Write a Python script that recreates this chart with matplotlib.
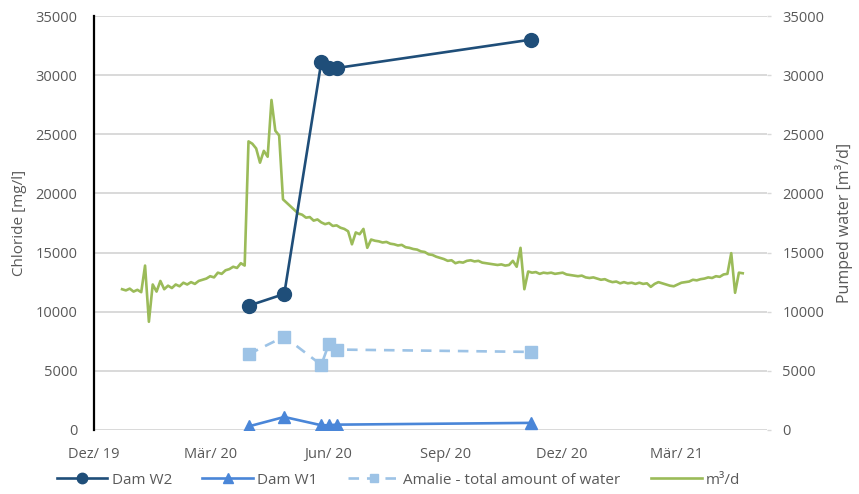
import numpy as np
import pandas as pd
import matplotlib.pyplot as plt

# sampling dates of the chloride / water measurements
sample_dates = pd.to_datetime(["2020-03-31", "2020-04-28", "2020-05-27",
                               "2020-06-02", "2020-06-08", "2020-11-07"])
dam_w2 = [10500, 11500, 31100, 30600, 30600, 33000]
dam_w1 = [300, 1100, 400, 400, 450, 600]
amalie = [6400, 7900, 5500, 7300, 6800, 6600]

# pumped water (m3/d), read every 3 days starting 23.12.2019
pumped_start = "2019-12-23"
pumped = [11900, 11800, 11950, 11700, 11850, 11650, 13900, 9150, 12300, 11700,
          12600, 11900, 12200, 12000, 12300, 12150, 12450, 12300, 12500, 12350,
          12600, 12700, 12800, 13000, 12900, 13300, 13200, 13500, 13600, 13800,
          13700, 14100, 13900, 24400, 24200, 23800, 22600, 23600, 23100, 27900,
          25300, 24900, 19500, 19200, 18900, 18600, 18300, 18200, 17950, 18000,
          17700, 17800, 17550, 17400, 17500, 17250, 17300, 17100, 17000, 16800,
          15700, 16700, 16550, 17000, 15400, 16100, 16000, 15950, 15850, 15900,
          15750, 15700, 15600, 15650, 15450, 15400, 15300, 15250, 15100, 15050,
          14850, 14800, 14650, 14550, 14450, 14300, 14350, 14100, 14200, 14150,
          14300, 14350, 14250, 14300, 14150, 14100, 14050, 14000, 13950, 14000,
          13900, 13950, 14300, 13800, 15400, 11900, 13400, 13300, 13350, 13200,
          13300, 13250, 13300, 13200, 13250, 13300, 13150, 13100, 13050, 13000,
          13050, 12900, 12850, 12900, 12800, 12700, 12750, 12600, 12500, 12550,
          12400, 12500, 12400, 12450, 12350, 12450, 12350, 12400, 12100, 12350,
          12500, 12400, 12300, 12200, 12150, 12300, 12450, 12500, 12550, 12700,
          12650, 12750, 12800, 12900, 12850, 13000, 12950, 13150, 13200, 14950,
          11600, 13300, 13250]
pumped_dates = pd.date_range(pumped_start, periods=len(pumped), freq="3D")

tick_dates = pd.to_datetime(["2019-12-01", "2020-03-01", "2020-06-01",
                             "2020-09-01", "2020-12-01", "2021-03-01"])
tick_labels = ["Dez/ 19", "Mär/ 20", "Jun/ 20", "Sep/ 20", "Dez/ 20", "Mär/ 21"]

plt.rcParams['font.family'] = ['Open Sans', 'DejaVu Sans']
txt = '#595959'
grid_c = '#d9d9d9'

fig = plt.figure(figsize=(8.59, 4.94), dpi=100)
ax1 = fig.add_axes([0.1094, 0.1296, 0.7835, 0.838])
ax2 = ax1.twinx()

# green line on the secondary axis, kept behind the blue series
ax1.set_zorder(ax2.get_zorder() + 1)
ax1.patch.set_visible(False)

p4, = ax2.plot(pumped_dates, pumped, color='#9bbb59', lw=1.9, label='m³/d')
p1, = ax1.plot(sample_dates, dam_w2, color='#1f4e79', lw=1.9, marker='o',
               ms=10, label='Dam W2')
p2, = ax1.plot(sample_dates, dam_w1, color='#4a86d8', lw=1.9, marker='^',
               ms=9, label='Dam W1')
p3, = ax1.plot(sample_dates, amalie, color='#9dc3e6', lw=1.9, marker='s',
               ms=8, ls=(0, (4, 3)), label='Amalie - total amount of water')

for ax in (ax1, ax2):
    ax.set_ylim(0, 35000)
    ax.set_yticks(np.arange(0, 35001, 5000))
    ax.set_xlim(pd.Timestamp("2019-12-01"), pd.Timestamp("2021-05-11"))
    for s in ax.spines.values():
        s.set_visible(False)

ax2.set_xticks(tick_dates)
ax1.set_xticks(tick_dates)
ax1.set_xticklabels(tick_labels)
ax2.grid(True, color=grid_c, lw=1.4)
ax2.set_axisbelow(True)

ax1.spines['left'].set_visible(True)
ax1.spines['left'].set_color('black')
ax1.spines['left'].set_linewidth(1.6)

ax1.tick_params(axis='x', length=0, pad=12, labelsize=10.5, labelcolor=txt)
ax1.tick_params(axis='y', length=0, pad=12, labelsize=10.5, labelcolor=txt)
ax2.tick_params(axis='y', length=3, width=1, color=grid_c, pad=8,
                labelsize=10.5, labelcolor=txt, right=True)

ax1.set_ylabel('Chloride [mg/l]', fontsize=11, color=txt, labelpad=6)
ax2.set_ylabel('Pumped water [m³/d]', fontsize=11.5, color=txt, labelpad=8)

fig.legend([p1, p2, p3, p4],
           ['Dam W2', 'Dam W1', 'Amalie - total amount of water', 'm³/d'],
           loc='center', bbox_to_anchor=(0.464, 0.028), ncol=4, frameon=False,
           fontsize=11, labelcolor=txt, handlelength=3.3, handletextpad=0.3,
           columnspacing=2.0, markerscale=0.75)

fig.savefig('out.png', dpi=100)
